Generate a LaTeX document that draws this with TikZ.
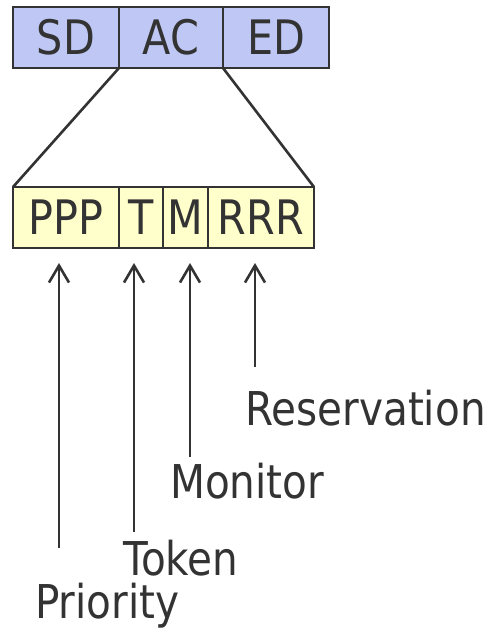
\documentclass[tikz,border=0pt]{standalone}
\usepackage{fontspec}
\setmainfont{DejaVu Sans}[FakeStretch=0.87]
\usepackage{xcolor}
\usetikzlibrary{arrows.meta, positioning}
\definecolor{fieldblue}{HTML}{BFC8F5}
\definecolor{fieldyellow}{HTML}{FFFFCC}
\definecolor{inkgray}{HTML}{333333}
\tikzset{
  field/.style={draw=inkgray, line width=2.6pt, text=inkgray, font=\fontsize{47.5}{50}\selectfont,
                minimum height=61pt, inner sep=0pt, outer sep=0pt},
  hdrfield/.style={field, fill=fieldblue},
  acfield/.style={field, fill=fieldyellow},
  fanline/.style={draw=inkgray, line width=2.6pt},
  pointer/.style={-{Straight Barb[length=17pt, width=20pt, line width=2.6pt]}, draw=inkgray, line width=2.6pt, shorten >=15pt},
  bitlabel/.style={text=inkgray, font=\fontsize{46.6}{50}\selectfont, inner sep=0pt, anchor=base west}
}
\begin{document}
\begin{tikzpicture}[x=1pt, y=-1pt]
\useasboundingbox (0,0) rectangle (492,630);

% Frame header
\node[hdrfield, minimum width=106pt] (sd) at (66,37.5) {SD};
\node[hdrfield, minimum width=104pt, right=0pt of sd] (ac) {AC};
\node[hdrfield, minimum width=106pt, right=0pt of ac] (ed) {ED};

% Access control byte
\node[acfield, minimum width=106pt] (ppp) at (66,217.5) {PPP};
\node[acfield, minimum width=44pt, right=0pt of ppp] (t) {T};
\node[acfield, minimum width=45pt, right=0pt of t] (m) {M};
\node[acfield, minimum width=106pt, right=0pt of m] (rrr) {RRR};

% Expansion
\draw[fanline] (ac.south west) -- (ppp.north west);
\draw[fanline] (ac.south east) -- (rrr.north east);

% Labels
\node[bitlabel] (resv) at (245,425) {Reservation};
\node[bitlabel] (mon)  at (170,498) {Monitor};
\node[bitlabel] (tok)  at (123,575) {Token};
\node[bitlabel] (prio) at (35,618)  {Priority};

% Pointers
\coordinate (ptail) at (59,548);
\coordinate (ttail) at (134,532);
\coordinate (mtail) at (190,457);
\coordinate (rtail) at (255,367);
\draw[pointer] (ptail) -- (ptail |- ppp.south);
\draw[pointer] (ttail) -- (ttail |- t.south);
\draw[pointer] (mtail) -- (mtail |- m.south);
\draw[pointer] (rtail) -- (rtail |- rrr.south);

\end{tikzpicture}
\end{document}
